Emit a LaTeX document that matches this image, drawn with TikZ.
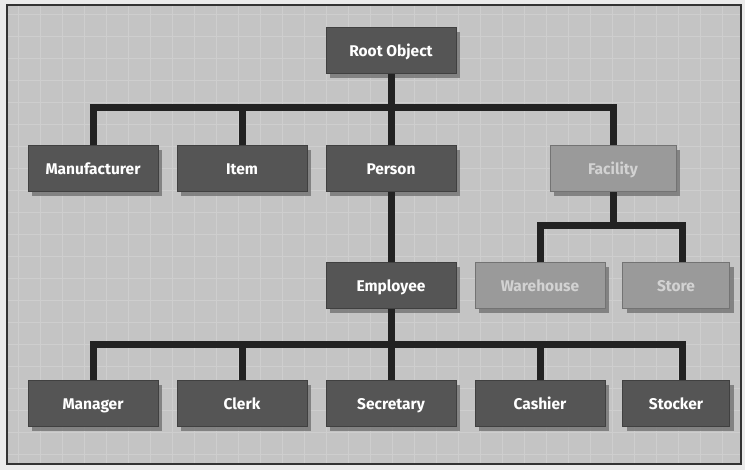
\documentclass[tikz,border=0pt]{standalone}
\usepackage{fontspec}
\setmainfont{Fira Sans}
\usetikzlibrary{shadows}
\definecolor{bgpaper}{HTML}{C4C4C4}
\definecolor{gridline}{HTML}{CECECE}
\definecolor{darkbox}{HTML}{555555}
\definecolor{lightbox}{HTML}{9A9A9A}
\definecolor{lighttext}{HTML}{D2D2D2}
\definecolor{connc}{HTML}{222222}
\tikzset{
  box/.style={rectangle, minimum height=46pt, minimum width=130pt, inner sep=0pt,
    text height=12.8pt, text depth=2pt,
    fill=darkbox, draw=black!75, line width=1pt, text=white,
    font=\fontsize{15.5}{15.5}\selectfont\bfseries,
    drop shadow={shadow xshift=4pt, shadow yshift=-4pt, fill=black!60, opacity=0.7}},
  lbox/.style={box, fill=lightbox, draw=black!55, text=lighttext},
  narrow/.style={minimum width=107pt},
  conn/.style={draw=connc, line width=7pt}
}
\begin{document}
\begin{tikzpicture}[x=1pt,y=-1pt]
\useasboundingbox (0,0) rectangle (745,470);
\fill[white!92!black] (0,0) rectangle (745,470);
\fill[bgpaper] (7,5) rectangle (741,464);
\foreach \gx in {18,40,...,740} \draw[gridline, line width=1pt] (\gx,5) -- (\gx,464);
\foreach \gy in {14,36,...,464} \draw[gridline, line width=0.8pt] (7,\gy) -- (741,\gy);
\draw[black!80, line width=1.2pt] (7,5) rectangle (741,464);

\coordinate (bus1) at (0,108);
\coordinate (bus2) at (0,226);
\coordinate (bus3) at (0,345);
\coordinate (storestem) at (682,0);

\path
  (391,51) node[box] (root) {Root Object}
  (93,169) node[box] (man) {Manufacturer}
  (242,169) node[box] (item) {Item}
  (391,169) node[box] (person) {Person}
  (613,169) node[lbox, minimum width=126pt] (fac) {Facility}
  (391,286) node[box] (emp) {Employee}
  (540,286) node[lbox] (ware) {Warehouse}
  (676,286) node[lbox, narrow] (store) {Store}
  (93,404) node[box] (mgr) {Manager}
  (242,404) node[box] (clerk) {Clerk}
  (391,404) node[box] (sec) {Secretary}
  (540,404) node[box] (cash) {Cashier}
  (676,404) node[box, narrow] (stock) {Stocker};

\draw[conn] (root.south) -- (root.south |- bus1);
\draw[conn, line cap=rect] (man.north |- bus1) -- (fac.north |- bus1);
\draw[conn] (man.north |- bus1) -- (man.north);
\draw[conn] (item.north |- bus1) -- (item.north);
\draw[conn] (person.north |- bus1) -- (person.north);
\draw[conn] (fac.north |- bus1) -- (fac.north);
\draw[conn] (person.south) -- (emp.north);
\draw[conn] (fac.south) -- (fac.south |- bus2);
\draw[conn, line cap=rect] (ware.north |- bus2) -- (storestem |- bus2);
\draw[conn] (ware.north |- bus2) -- (ware.north);
\draw[conn] (storestem |- bus2) -- (storestem |- store.north);
\draw[conn] (emp.south) -- (emp.south |- bus3);
\draw[conn, line cap=rect] (mgr.north |- bus3) -- (storestem |- bus3);
\draw[conn] (mgr.north |- bus3) -- (mgr.north);
\draw[conn] (clerk.north |- bus3) -- (clerk.north);
\draw[conn] (sec.north |- bus3) -- (sec.north);
\draw[conn] (cash.north |- bus3) -- (cash.north);
\draw[conn] (storestem |- bus3) -- (storestem |- stock.north);
\end{tikzpicture}
\end{document}
